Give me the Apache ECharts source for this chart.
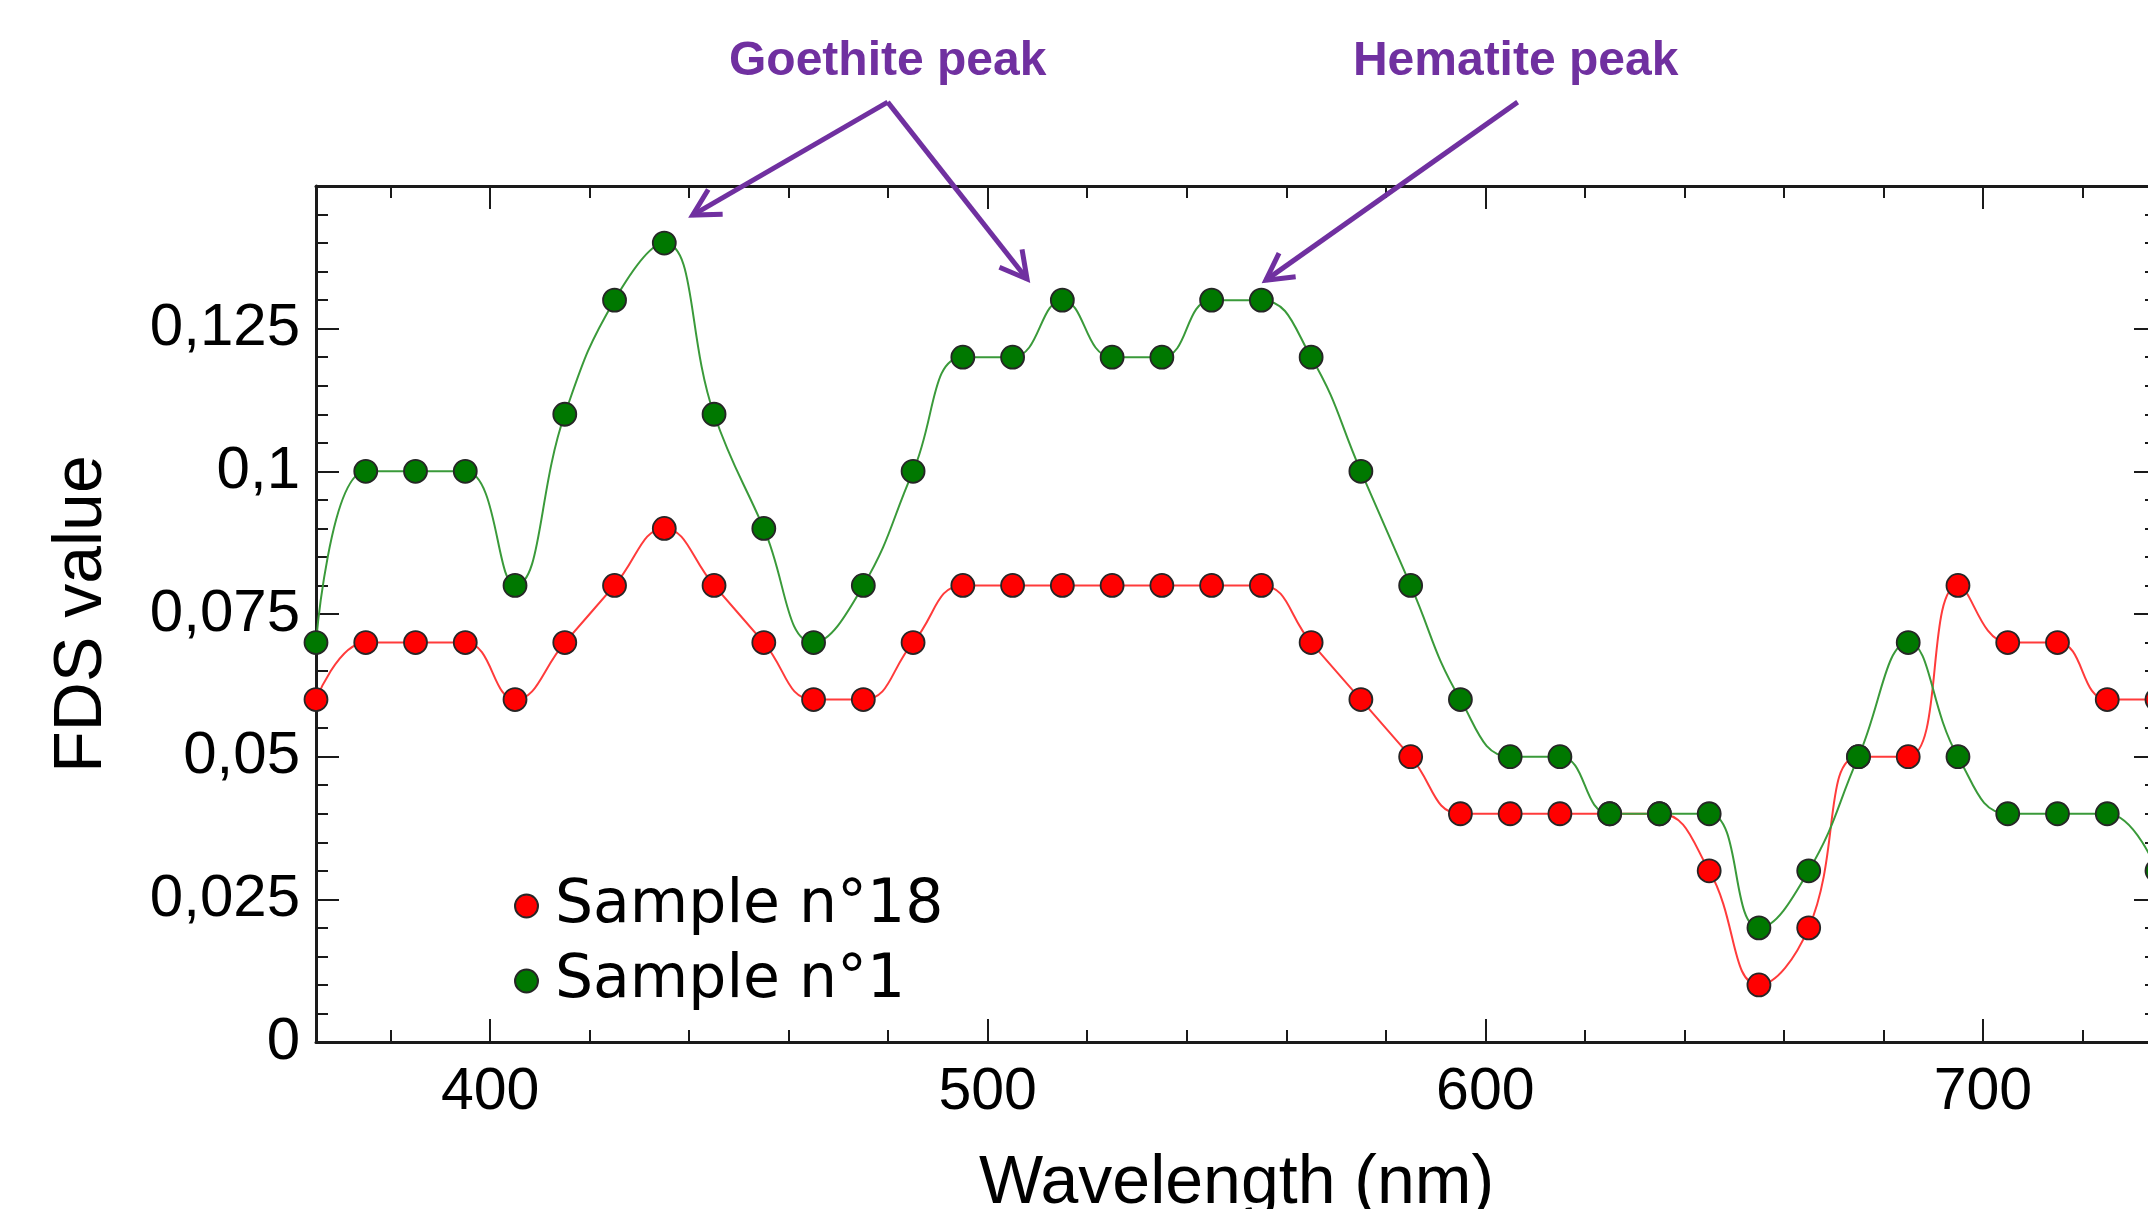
<!DOCTYPE html>
<html>
<head>
<meta charset="utf-8">
<script src="https://cdn.jsdelivr.net/npm/echarts@6/dist/echarts.min.js"></script>
<style>
html,body{margin:0;padding:0;background:#ffffff;}
#chart{width:2148px;height:1209px;}
</style>
</head>
<body>
<div id="chart"></div>
<script>
// ---- data ----
const wavelengths = [365,375,385,395,405,415,425,435,445,455,465,475,485,495,505,515,525,535,545,555,565,575,585,595,605,615,625,635,645,655,665,675,685,695,705,715,725,735];
const sample18 = [0.06,0.07,0.07,0.07,0.06,0.07,0.08,0.09,0.08,0.07,0.06,0.06,0.07,0.08,0.08,0.08,0.08,0.08,0.08,0.08,0.07,0.06,0.05,0.04,0.04,0.04,0.04,0.04,0.03,0.01,0.02,0.05,0.05,0.08,0.07,0.07,0.06,0.06];
const sample1  = [0.07,0.10,0.10,0.10,0.08,0.11,0.13,0.14,0.11,0.09,0.07,0.08,0.10,0.12,0.12,0.13,0.12,0.12,0.13,0.13,0.12,0.10,0.08,0.06,0.05,0.05,0.04,0.04,0.04,0.02,0.03,0.05,0.07,0.05,0.04,0.04,0.04,0.03];
const seriesNames = ['Sample n°18', 'Sample n°1'];
const xTitle = 'Wavelength (nm)';
const yTitle = 'FDS value';
const annotationLabels = ['Goethite peak', 'Hematite peak'];
const annotationAnchors = [[479.9, 0.1717], [606.1, 0.1717]];
const arrowSegments = [
  [479.9, 0.1647, 440.7, 0.1449],
  [479.9, 0.1647, 507.9, 0.1337],
  [606.5, 0.1647, 555.9, 0.1335]
];

// ---- style ----
const AXIS_COLOR = '#1a1a1a';
const PURPLE = '#7030a0';
const LABEL_FONT = '"Liberation Sans", Arial, sans-serif';

const chart = echarts.init(document.getElementById('chart'), null, {renderer: 'canvas'});

function fmtY(v) {
  if (v > 0.149) return '';
  return String(+v.toFixed(3)).replace('.', ',');
}

const xBase = {
  type: 'value', min: 365, max: 735,
  axisLine: {show: true, onZero: false, lineStyle: {color: AXIS_COLOR, width: 3}},
  axisTick: {show: true, inside: true, length: 23, lineStyle: {color: AXIS_COLOR, width: 2}},
  minorTick: {show: true, splitNumber: 5, length: 12, lineStyle: {color: AXIS_COLOR, width: 2}},
  splitLine: {show: false}
};
const yBase = {
  type: 'value', min: 0, max: 0.15, interval: 0.025,
  axisLine: {show: true, onZero: false, lineStyle: {color: AXIS_COLOR, width: 3}},
  axisTick: {show: true, inside: true, length: 23, lineStyle: {color: AXIS_COLOR, width: 2}},
  minorTick: {show: true, splitNumber: 5, length: 12, lineStyle: {color: AXIS_COLOR, width: 2}},
  splitLine: {show: false}
};

function arrowRender(params, api) {
  const p0 = api.coord([api.value(0), api.value(1)]);
  const p1 = api.coord([api.value(2), api.value(3)]);
  const dx = p1[0] - p0[0], dy = p1[1] - p0[1];
  const ang = Math.atan2(dy, dx);
  const headLen = 30, spread = 0.5;
  const h1 = [p1[0] - headLen * Math.cos(ang - spread), p1[1] - headLen * Math.sin(ang - spread)];
  const h2 = [p1[0] - headLen * Math.cos(ang + spread), p1[1] - headLen * Math.sin(ang + spread)];
  const style = {stroke: PURPLE, lineWidth: 5, fill: null, lineCap: 'butt', lineJoin: 'miter'};
  return {
    type: 'group',
    children: [
      {type: 'line', shape: {x1: p0[0], y1: p0[1], x2: p1[0], y2: p1[1]}, style: style},
      {type: 'polyline', shape: {points: [h1, p1, h2]}, style: style}
    ]
  };
}

function labelRender(params, api) {
  const p = api.coord([api.value(0), api.value(1)]);
  return {
    type: 'text',
    x: p[0], y: p[1],
    style: {
      text: annotationLabels[params.dataIndex],
      fill: PURPLE,
      font: 'bold 48px "Liberation Sans", Arial, sans-serif',
      align: 'center',
      verticalAlign: 'middle'
    }
  };
}

const option = {
  animation: false,
  backgroundColor: '#ffffff',
  grid: {left: 316, right: -9, top: 186, bottom: 167, containLabel: false, outerBoundsMode: 'none'},
  legend: {
    data: seriesNames,
    orient: 'vertical',
    left: 514, top: 874, padding: 0,
    itemWidth: 23, itemHeight: 23, itemGap: 11,
    icon: 'circle',
    textStyle: {fontFamily: '"DejaVu Sans", sans-serif', fontSize: 60, color: '#000', lineHeight: 60, padding: [0, 0, 4, 12]},
    selectedMode: false
  },
  xAxis: [
    Object.assign({}, xBase, {
      position: 'bottom',
      name: xTitle, nameLocation: 'middle', nameGap: 108,
      nameTextStyle: {fontFamily: LABEL_FONT, fontSize: 68, color: '#000'},
      axisLabel: {show: true, showMinLabel: false, showMaxLabel: false, margin: 21, fontFamily: LABEL_FONT, fontSize: 59, color: '#000'}
    }),
    Object.assign({}, xBase, {position: 'top', axisLabel: {show: false}})
  ],
  yAxis: [
    Object.assign({}, yBase, {
      position: 'left',
      name: yTitle, nameLocation: 'middle', nameGap: 200, nameRotate: 90,
      nameTextStyle: {fontFamily: LABEL_FONT, fontSize: 68, color: '#000'},
      axisLabel: {show: true, margin: 16, fontFamily: LABEL_FONT, fontSize: 60, color: '#000', formatter: fmtY}
    }),
    Object.assign({}, yBase, {position: 'right', axisLabel: {show: false}})
  ],
  series: [
    {
      name: seriesNames[0], type: 'line', smooth: 0.45,
      data: wavelengths.map((w, i) => [w, sample18[i]]),
      symbol: 'circle', symbolSize: 23,
      lineStyle: {color: '#ff3b3b', width: 2},
      itemStyle: {color: '#ff0000', borderColor: '#262626', borderWidth: 1.8},
      z: 2
    },
    {
      name: seriesNames[1], type: 'line', smooth: 0.45,
      data: wavelengths.map((w, i) => [w, sample1[i]]),
      symbol: 'circle', symbolSize: 23,
      lineStyle: {color: '#3a9a3a', width: 2},
      itemStyle: {color: '#007800', borderColor: '#262626', borderWidth: 1.8},
      z: 3
    },
    {
      type: 'custom', coordinateSystem: 'cartesian2d', silent: true, clip: false,
      renderItem: arrowRender, data: arrowSegments, z: 5
    },
    {
      type: 'custom', coordinateSystem: 'cartesian2d', silent: true, clip: false,
      renderItem: labelRender, data: annotationAnchors, z: 5
    }
  ]
};
chart.setOption(option);
</script>
</body>
</html>
